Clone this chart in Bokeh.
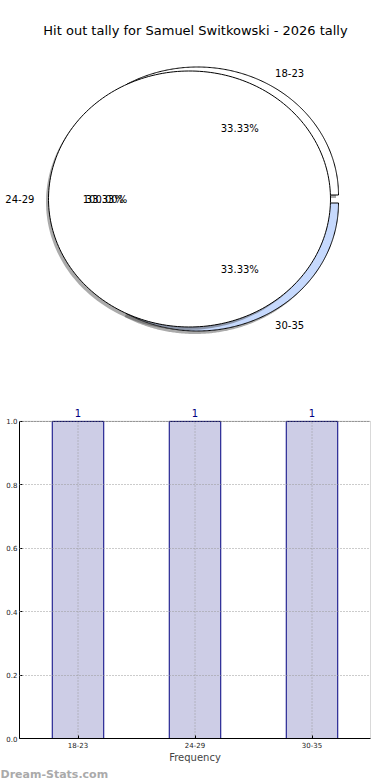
import numpy as np
from bokeh.plotting import figure
from bokeh.models import (Range1d, ColumnDataSource, FixedTicker, NumeralTickFormatter,
                          BoxAnnotation, Title)
from bokeh.embed import file_html
from bokeh.resources import INLINE
from bokeh.core.properties import value

# ---------------- data ----------------
title_text = "Hit out tally for Samuel Switkowski - 2026 tally"
age_groups = ["18-23", "24-29", "30-35"]
counts = [1, 1, 1]
pie_colors = ["#ffffff", "#ffffff", "#c6d9fd"]
full_slice_label = "100.00%"   # the 24-29 slice is rendered as a full disc in the source chart
y_ticks = [0.0, 0.2, 0.4, 0.6, 0.8, 1.0]
x_label = "Frequency"
watermark = "Dream-Stats.com"

FONT = "DejaVu Sans"

# ---------------- pie figure ----------------
W, H = 390, 390
SX, SY = 141.0, 128.0          # px per data unit (elliptical pie)
CX, CY = 189.0, 198.5          # pie centre in canvas px (from left / top)

pp = figure(width=W, height=H, output_backend="svg", toolbar_location=None,
            x_range=Range1d(-CX / SX, (W - CX) / SX),
            y_range=Range1d(-(H - CY) / SY, CY / SY),
            x_axis_location=None, y_axis_location=None,
            min_border=0, outline_line_color=None)
pp.grid.visible = False

total = float(sum(counts))
cum = np.concatenate([[0.0], np.cumsum(counts) / total])
pcts = ["%.2f%%" % (100.0 * c / total) for c in counts]
shifts = [(8 / SX, 4 / SY), (0.0, 0.0), (8 / SX, -4 / SY)]
shadow = (-2.5 / SX, -3.0 / SY)

def wedge_xy(t1, t2, ox, oy, full=False):
    t = np.linspace(t1, t2, 240)
    xs = list(ox + np.cos(t))
    ys = list(oy + np.sin(t))
    if not full:
        xs = [ox] + xs + [ox]
        ys = [oy] + ys + [oy]
    return xs, ys

order = [0, 2, 1]
lab_x, lab_y, lab_t, lab_a = [], [], [], []
for i in order:
    t1, t2 = 2 * np.pi * cum[i], 2 * np.pi * cum[i + 1]
    ox, oy = shifts[i]
    full = (i == 1)
    if full:
        xs, ys = wedge_xy(0, 2 * np.pi, ox, oy, True)
    else:
        xs, ys = wedge_xy(t1, t2, ox, oy)
    pp.patch([x + shadow[0] for x in xs], [y + shadow[1] for y in ys],
             fill_color="#444444", fill_alpha=0.45, line_color=None)
    pp.patch(xs, ys, fill_color=pie_colors[i], line_color="black", line_width=1)
    m = 0.5 * (t1 + t2)
    lx, ly = 1.1 * np.cos(m) + ox, 1.1 * np.sin(m) + oy
    lab_x.append(lx); lab_y.append(ly); lab_t.append(age_groups[i])
    lab_a.append("left" if lx > 0 else "right")
    px_, py_ = 0.6 * np.cos(m) + ox, 0.6 * np.sin(m) + oy
    lab_x.append(px_); lab_y.append(py_); lab_t.append(pcts[i]); lab_a.append("center")
    if full:
        lab_x.append(px_); lab_y.append(py_); lab_t.append(full_slice_label); lab_a.append("center")

pp.text(x=lab_x, y=lab_y, text=lab_t, text_align=lab_a, text_baseline="middle",
        text_font=value(FONT), text_font_size="10px", text_color="black")

# chart title (placed in the pie canvas, whose frame fills the canvas)
pp.text(x=[(195 - CX) / SX], y=[(CY - 30) / SY], text=[title_text],
        text_align="center", text_baseline="middle",
        text_font=value(FONT), text_font_size="13px", text_color="black")

# ---------------- bar figure ----------------
BH = 390
frame_top_px, frame_one_px, frame_bottom_px = 400, 421, 740
y_max = 1.0 + (frame_one_px - frame_top_px) / float(frame_bottom_px - frame_one_px)
x_pos = list(range(len(age_groups)))
x_lo, x_hi = -0.5, len(age_groups) - 0.5

pb = figure(width=W, height=BH, output_backend="svg", toolbar_location=None,
            x_range=Range1d(x_lo, x_hi), y_range=Range1d(0, y_max),
            min_border_left=19, min_border_right=20,
            min_border_top=frame_top_px - H, min_border_bottom=BH + H - frame_bottom_px)
pb.outline_line_color = None

src = ColumnDataSource(dict(x=x_pos, top=counts, lab=[str(c) for c in counts]))
pb.vbar(x="x", top="top", width=0.44, source=src, fill_color="#cdcde6",
        line_color="#000080", line_width=1)

# vertical dotted grid lines at the category ticks, limited to the axes box
pb.segment(x0="x", y0=0, x1="x", y1=1.0, source=src, line_color="#999999",
           line_dash="1 2", line_width=1)

# axes frame (matplotlib spines)
pb.add_layout(BoxAnnotation(left=x_lo, right=x_hi, bottom=0, top=1.0,
                            fill_color=None, line_color="black", line_width=1,
                            level="annotation"))

pb.text(x="x", y="top", text="lab", source=src, y_offset=-4,
        text_align="center", text_baseline="bottom",
        text_font=value(FONT), text_font_size="10px", text_color="#000080")

for ax in (pb.xaxis, pb.yaxis):
    ax.major_label_text_font = FONT
    ax.major_label_text_font_size = "7px"
    ax.major_label_text_color = "#222222"
    ax.major_tick_in = 3
    ax.major_tick_out = 0
    ax.minor_tick_line_color = None
    ax.axis_line_color = "black"
pb.yaxis.ticker = FixedTicker(ticks=y_ticks)
pb.yaxis.formatter = NumeralTickFormatter(format="0.0")
pb.yaxis.bounds = (0, 1.0)
pb.yaxis.major_label_standoff = 2
pb.xaxis.ticker = FixedTicker(ticks=x_pos)
pb.xaxis.major_label_overrides = {i: g for i, g in zip(x_pos, age_groups)}
pb.xaxis.major_label_standoff = 3
pb.xaxis.axis_label = x_label
pb.xaxis.axis_label_text_font = FONT
pb.xaxis.axis_label_text_font_size = "10px"
pb.xaxis.axis_label_text_font_style = "normal"
pb.xaxis.axis_label_standoff = 1

pb.xgrid.visible = False
pb.ygrid.grid_line_color = "#999999"
pb.ygrid.grid_line_dash = "1 2"
pb.ygrid.grid_line_width = 1
pb.ygrid.level = "annotation"
pb.ygrid.ticker = FixedTicker(ticks=y_ticks)

pb.add_layout(Title(text=watermark, align="left", offset=-19, standoff=0,
                    text_font=FONT, text_font_size="11px", text_font_style="bold",
                    text_color="#aaaaaa"), "below")

open("out.html", "w").write(file_html([pp, pb], INLINE))
